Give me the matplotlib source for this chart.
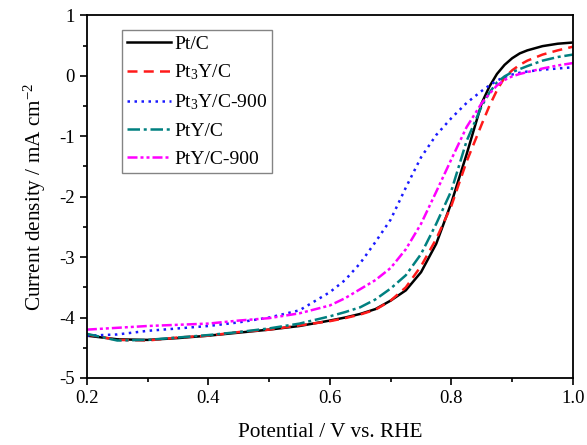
import matplotlib
matplotlib.use("Agg")
import matplotlib.pyplot as plt
from matplotlib.ticker import MultipleLocator

plt.rcParams['font.family'] = ['Liberation Serif', 'DejaVu Serif']
plt.rcParams['mathtext.fontset'] = 'custom'
plt.rcParams['mathtext.rm'] = 'Liberation Serif'
plt.rcParams['mathtext.it'] = 'Liberation Serif:italic'
plt.rcParams['axes.unicode_minus'] = False

potential = [0.2, 0.25, 0.3, 0.35, 0.4, 0.45, 0.5, 0.55, 0.6, 0.625, 0.65, 0.675,
             0.7, 0.725, 0.75, 0.775, 0.8, 0.825, 0.85, 0.8625, 0.875, 0.8875, 0.9,
             0.9125, 0.925, 0.95, 0.975, 1.0]

pt_c = [-4.30, -4.36, -4.37, -4.34, -4.30, -4.25, -4.20, -4.14, -4.05, -4.00, -3.94, -3.86,
        -3.72, -3.55, -3.25, -2.78, -2.10, -1.30, -0.45, -0.18, 0.03, 0.18, 0.29,
        0.37, 0.42, 0.49, 0.53, 0.55]
pt3y_c = [-4.28, -4.37, -4.38, -4.33, -4.30, -4.24, -4.20, -4.13, -4.06, -4.01, -3.95, -3.87,
          -3.72, -3.50, -3.15, -2.70, -2.15, -1.42, -0.80, -0.50, -0.24, -0.03, 0.09,
          0.18, 0.25, 0.35, 0.42, 0.48]
pt3y_c900 = [-4.30, -4.28, -4.22, -4.18, -4.14, -4.08, -4.00, -3.88, -3.58, -3.38, -3.10, -2.75,
             -2.38, -1.85, -1.35, -0.98, -0.70, -0.45, -0.25, -0.16, -0.08, -0.02, 0.02,
             0.05, 0.07, 0.10, 0.12, 0.14]
pty_c = [-4.27, -4.38, -4.37, -4.33, -4.29, -4.24, -4.18, -4.10, -3.98, -3.91, -3.83, -3.70,
         -3.52, -3.30, -2.95, -2.45, -1.90, -1.08, -0.50, -0.28, -0.11, -0.01, 0.06,
         0.11, 0.16, 0.25, 0.31, 0.35]
pty_c900 = [-4.20, -4.17, -4.14, -4.12, -4.10, -4.05, -4.01, -3.93, -3.80, -3.68, -3.53, -3.38,
            -3.18, -2.87, -2.45, -1.92, -1.38, -0.85, -0.45, -0.30, -0.16, -0.07, -0.01,
            0.03, 0.06, 0.12, 0.17, 0.21]

labels = ['Pt/C', 'Pt$_3$Y/C', 'Pt$_3$Y/C-900', 'PtY/C', 'PtY/C-900']
colors = ['black', '#ff1a1a', '#1a1aff', '#008080', '#ff00ff']
styles = ['-', (0, (4, 2.5)), (0, (1, 1.8)), (0, (5, 1.5, 1.2, 1.5)), (0, (4, 1.2, 1.2, 1.2, 1.2, 1.2))]
series = [pt_c, pt3y_c, pt3y_c900, pty_c, pty_c900]

fig = plt.figure(figsize=(5.87, 4.45), dpi=100)
ax = fig.add_axes([0.148, 0.1506, 0.828, 0.815])

for y, lab, c, ls in zip(series, labels, colors, styles):
    ax.plot(potential, y, color=c, linestyle=ls, linewidth=1.8, label=lab)

ax.set_xlim(0.2, 1.0)
ax.set_ylim(-5, 1)
ax.xaxis.set_minor_locator(MultipleLocator(0.1))
ax.yaxis.set_major_locator(MultipleLocator(1))
ax.yaxis.set_minor_locator(MultipleLocator(0.5))
ax.set_xticks([0.2, 0.4, 0.6, 0.8, 1.0])
ax.set_xticklabels(['0.2', '0.4', '0.6', '0.8', '1.0'])
ax.tick_params(which='major', direction='out', length=5, width=1.2, labelsize=13.5)
ax.tick_params(which='minor', direction='out', length=3, width=1.2)
ax.tick_params(top=False, right=False)
for s in ax.spines.values():
    s.set_linewidth(1.3)

ax.set_xlabel('Potential / V vs. RHE', fontsize=15.3, labelpad=12)
ax.set_ylabel('Current density / mA cm$^{-2}$', fontsize=15.3, labelpad=8)

leg = ax.legend(loc='upper left', bbox_to_anchor=(0.072, 0.959), fontsize=14,
                frameon=True, fancybox=False, edgecolor='#666666', handlelength=2.3,
                handletextpad=0.15, labelspacing=0.52, borderpad=0.25, borderaxespad=0)
leg.get_frame().set_linewidth(1.0)

fig.savefig('out.png', dpi=100)
